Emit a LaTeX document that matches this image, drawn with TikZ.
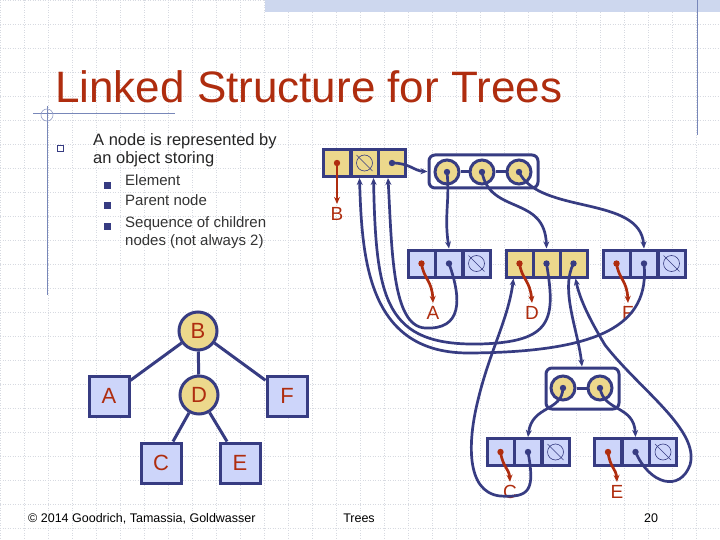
\documentclass[tikz,border=0pt]{standalone}
\usepackage{fontspec}
\setmainfont{Liberation Sans}
\usetikzlibrary{arrows.meta}
\definecolor{nblue}{RGB}{205,213,250}
\definecolor{nyel}{RGB}{236,216,140}
\definecolor{edge}{RGB}{55,60,130}
\definecolor{tred}{RGB}{175,45,15}
\definecolor{gridc}{RGB}{215,218,225}
\definecolor{band}{RGB}{205,215,238}
\definecolor{deco}{RGB}{120,135,185}
\definecolor{deco2}{RGB}{150,160,200}
\begin{document}
\begin{tikzpicture}[x=1pt,y=-1pt,
 cell/.style={draw=edge,line width=3pt,minimum width=27pt,minimum height=27pt,inner sep=0pt},
 bc/.style={cell,fill=nblue}, yc/.style={cell,fill=nyel},
 nil/.style={path picture={\draw[edge,line width=0.6pt] (path picture bounding box.center) circle (8pt);
   \draw[edge,line width=0.6pt] ([shift={(-8pt,8pt)}]path picture bounding box.center) -- ([shift={(8pt,-8pt)}]path picture bounding box.center);}},
 circ/.style={circle,draw=edge,line width=3pt,fill=nyel,minimum size=24pt,inner sep=0pt},
 box/.style={draw=edge,line width=3pt,rounded corners=6pt,fill=white},
 lnk/.style={edge,line width=2.7pt,-{Stealth[length=7pt,width=6pt]}},
 elk/.style={tred,line width=2.7pt,-{Stealth[length=7pt,width=6pt]}},
 lbl/.style={text=tred,font=\fontsize{19}{19}\selectfont},
 tnode/.style={draw=edge,line width=3pt,inner sep=0pt,font=\fontsize{22}{22}\selectfont,text=tred},
 sq/.style={tnode,fill=nblue,minimum size=40pt},
 ci/.style={tnode,fill=nyel,circle,minimum size=38pt}]
\useasboundingbox (0,0) rectangle (720,540);
\fill[white] (0,0) rectangle (720,540);
\foreach \i in {0,24,...,720} \draw[gridc,line width=0.5pt,dotted] (\i,0) -- (\i,540);
\foreach \j in {0,24,...,540} \draw[gridc,line width=0.5pt,dotted] (0,\j) -- (720,\j);
\fill[band] (265,0) rectangle (720,12);
\draw[deco,line width=0.8pt] (697,0) -- (697,135);
\draw[deco,line width=0.8pt] (33,113) -- (175,113);
\draw[deco,line width=0.8pt] (47,106) -- (47,295);
\draw[deco2,line width=0.6pt] (47,115) circle (6);
% title and text
\node[anchor=base west,inner sep=0pt,text=tred,font=\fontsize{44}{44}\selectfont] (title) at (55,103) {Linked Structure for Trees};
\node[draw=edge,line width=0.7pt,minimum size=6pt,inner sep=0pt] (b0) at (60,148) {};
\node[anchor=base west,inner sep=0pt,align=left,font=\fontsize{16.5}{18.5}\selectfont,text=black!85] (t0) at (93,164) {A node is represented by\\an object storing};
\foreach \y/\n in {186/e,206/p,227/s}{\fill[edge] (104,\y-3.5) rectangle (111,\y+3.5);}
\node[anchor=base west,inner sep=0pt,font=\fontsize{15}{15}\selectfont,text=black!80] (t1) at (125,186) {Element};
\node[anchor=base west,inner sep=0pt,font=\fontsize{15}{15}\selectfont,text=black!80] (t2) at (125,206) {Parent node};
\node[anchor=base west,inner sep=0pt,align=left,font=\fontsize{15}{18}\selectfont,text=black!80] (t3) at (125,245) {Sequence of children\\nodes (not always 2)};
% footer
\node[anchor=base west,inner sep=0pt,font=\fontsize{12.5}{12.5}\selectfont] (f1) at (28,522) {\textcopyright\ 2014 Goodrich, Tamassia, Goldwasser};
\node[anchor=base,inner sep=0pt,font=\fontsize{12.5}{12.5}\selectfont] (f2) at (359,522) {Trees};
\node[anchor=base,inner sep=0pt,font=\fontsize{12.5}{12.5}\selectfont] (f3) at (651,522) {20};
% left tree
\node[ci] (TB) at (198,331) {B};
\node[ci] (TD) at (199,395) {D};
\node[sq] (TA) at (109,396) {A};
\node[sq] (TF) at (287,396) {F};
\node[sq] (TC) at (161,463) {C};
\node[sq] (TE) at (240,463) {E};
\foreach \a/\b in {TB/TA,TB/TD,TB/TF,TD/TC,TD/TE} \draw[edge,line width=3pt] (\a) -- (\b);
% record nodes
\node[yc] (Be) at (337,163) {}; \node[yc,nil] (Bp) at (364.5,163) {}; \node[yc] (Bc) at (392,163) {};
\node[bc] (Ae) at (421.5,263.5) {}; \node[bc] (Ap) at (449,263.5) {}; \node[bc,nil] (Ac) at (476.5,263.5) {};
\node[yc] (De) at (519.5,263.5) {}; \node[yc] (Dp) at (546.5,263.5) {}; \node[yc] (Dc) at (573.5,263.5) {};
\node[bc] (Fe) at (616.5,263.5) {}; \node[bc] (Fp) at (644,263.5) {}; \node[bc,nil] (Fc) at (671.5,263.5) {};
\node[bc] (Ce) at (500.5,452) {}; \node[bc] (Cp) at (528,452) {}; \node[bc,nil] (Cc) at (555.5,452) {};
\node[bc] (Ee) at (608,452) {}; \node[bc] (Ep) at (635.5,452) {}; \node[bc,nil] (Ec) at (663,452) {};
% containers
\node[box,minimum width=109pt,minimum height=33pt] (K1) at (483.5,171.5) {};
\node[circ] (k1) at (447,172) {}; \node[circ] (k2) at (482,172) {}; \node[circ] (k3) at (519,172) {};
\draw[edge,line width=3pt] (k1) -- (k2) (k2) -- (k3);
\node[box,minimum width=73pt,minimum height=41pt] (K2) at (582.5,388.5) {};
\node[circ] (m1) at (563,388) {}; \node[circ] (m2) at (600,388) {};
\draw[edge,line width=3pt] (m1) -- (m2);
% labels
\node[lbl] (LB) at (337,214) {B};
\node[lbl] (LA) at (433,313) {A};
\node[lbl] (LD) at (532,313) {D};
\node[lbl] (LF) at (628,313) {F};
\node[lbl] (LC) at (510,492) {C};
\node[lbl] (LE) at (617,492) {E};
% element arrows
\draw[elk] (Be.center) -- (LB.north);
\draw[elk] (Ae.center) .. controls (424,280) and (432,280) .. (LA.north);
\draw[elk] (De.center) .. controls (522,280) and (530,280) .. (LD.north);
\draw[elk] (Fe.center) .. controls (619,280) and (627,280) .. (LF.north);
\draw[elk] (Ce.center) .. controls (503,468) and (509,468) .. (LC.north);
\draw[elk] (Ee.center) .. controls (610,468) and (616,468) .. (LE.north);
% child links
\draw[lnk] (Bc.center) .. controls (410,163) and (414,171) .. (K1.west);
\draw[lnk] (k1.center) .. controls (450,200) and (444,215) .. (Ap.north);
\draw[lnk] (k2.center) .. controls (490,215) and (545,195) .. (Dp.north);
\draw[lnk] (k3.center) .. controls (540,215) and (640,195) .. (Fp.north);
\draw[lnk] (Dc.center) .. controls (560,290) and (578,330) .. (K2.north -| 582,0);
\draw[lnk] (m1.center) .. controls (562,412) and (532,405) .. (Cp.north);
\draw[lnk] (m2.center) .. controls (604,412) and (634,405) .. (Ep.north);
% parent links
\draw[lnk] (Ap.center) .. controls (462,300) and (462,330) .. (425,328) .. controls (392,326) and (392,250) .. ([xshift=-4pt]Bc.south);
\draw[lnk] (Dp.center) .. controls (556,320) and (552,342) .. (480,344) .. controls (385,346) and (376,300) .. ([xshift=9pt]Bp.south);
\draw[lnk] (Fp.center) .. controls (650,325) and (600,352) .. (470,353) .. controls (368,354) and (362,260) .. ([xshift=-5pt]Bp.south);
\draw[lnk] (Cp.center) .. controls (535,490) and (530,498) .. (500,496) .. controls (465,492) and (468,440) .. (478,400) .. controls (490,350) and (508,320) .. ([xshift=-6pt]De.south);
\draw[lnk] (Ep.center) .. controls (650,485) and (680,492) .. (690,465) .. controls (700,430) and (640,390) .. (605,345) .. controls (590,320) and (580,300) .. ([xshift=2pt]Dc.south);
% dots
\foreach \c in {Be,Ae,De,Fe,Ce,Ee} \fill[tred] (\c.center) circle (3.2pt);
\foreach \c in {Bc,Ap,Dp,Dc,Fp,Cp,Ep,k1,k2,k3,m1,m2} \fill[edge] (\c.center) circle (3.2pt);
\end{tikzpicture}
\end{document}
